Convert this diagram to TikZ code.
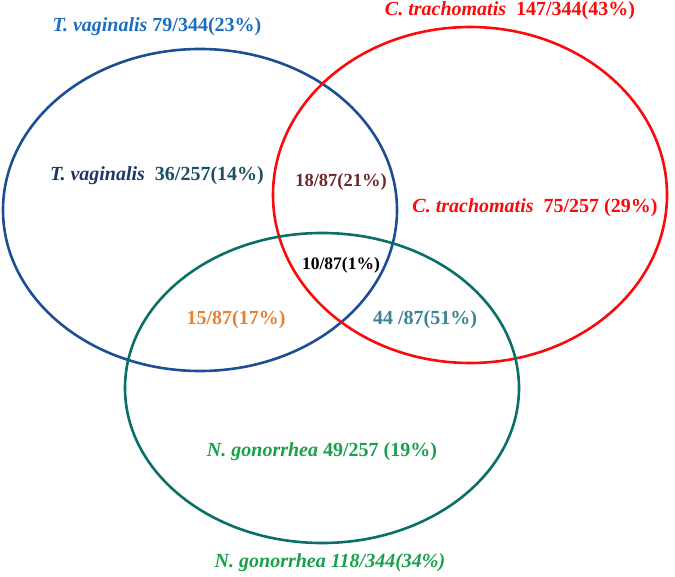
\documentclass[tikz,border=0pt]{standalone}
\usepackage{fontspec}
\setmainfont{Liberation Serif}
\begin{document}
\begin{tikzpicture}[x=1pt, y=-1pt, font=\fontsize{20}{24}\selectfont\bfseries,
  lbl/.style={inner sep=0pt, anchor=center}]
\definecolor{tvblue}{RGB}{28,78,150}
\definecolor{tvtext}{RGB}{30,110,190}
\definecolor{tvnavy}{RGB}{30,55,100}
\definecolor{tvnum}{RGB}{25,80,100}
\definecolor{ctred}{RGB}{250,10,10}
\definecolor{ngteal}{RGB}{10,110,105}
\definecolor{nggreen}{RGB}{25,160,75}
\definecolor{tcbrown}{RGB}{110,40,40}
\definecolor{tnorange}{RGB}{232,130,50}
\definecolor{cnblue}{RGB}{60,130,150}
\useasboundingbox (0,0) rectangle (675,577);

\draw[tvblue, line width=2.6pt] (200,210) ellipse [x radius=197, y radius=161];
\draw[ctred, line width=2.6pt] (470,195) ellipse [x radius=197, y radius=168];
\draw[ngteal, line width=2.6pt] (322,388) ellipse [x radius=197, y radius=155];

\node[lbl, text=tvtext] (tvall) at (157,27) {\textit{T. vaginalis} 79/344(23\%)};
\node[lbl, text=ctred] (ctall) at (510,11) {\textit{C. trachomatis}\ \ 147/344(43\%)};
\node[lbl, text=nggreen] (ngall) at (330,563) {\textit{N. gonorrhea 118/344(34\%)}};

\node[lbl] (tvonly) at (157,176) {\textcolor{tvnavy}{\textit{T. vaginalis}}\ \ \textcolor{tvnum}{36/257(14\%)}};
\node[lbl, text=ctred] (ctonly) at (535,208) {\textit{C. trachomatis}\ \ 75/257 (29\%)};
\node[lbl, text=nggreen] (ngonly) at (322,452) {\textit{N. gonorrhea} 49/257 (19\%)};

\node[lbl, text=tcbrown, font=\fontsize{18.5}{22}\selectfont\bfseries] (tvct) at (341,182) {18/87(21\%)};
\node[lbl, text=black, font=\fontsize{17.5}{21}\selectfont\bfseries] (all) at (341,265) {10/87(1\%)};
\node[lbl, text=tnorange] (tvng) at (236,320) {15/87(17\%)};
\node[lbl, text=cnblue] (ctng) at (425,320) {44 /87(51\%)};
\end{tikzpicture}
\end{document}
